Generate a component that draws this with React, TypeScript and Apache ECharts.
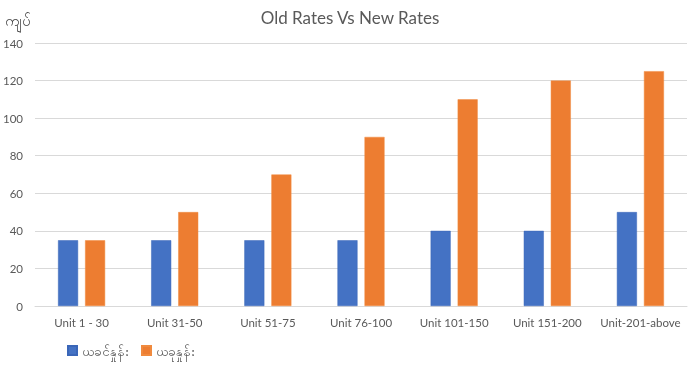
import React, { useEffect, useRef } from "react";
import * as echarts from "echarts";

const categories = ["Unit 1 - 30", "Unit 31-50", "Unit 51-75", "Unit 76-100", "Unit 101-150", "Unit 151-200", "Unit-201-above"];
const oldRates = [35, 35, 35, 35, 40, 40, 50];
const newRates = [35, 50, 70, 90, 110, 120, 125];
const seriesNames = ["ယခင်နှုန်း", "ယခုနှုန်း"];
const yAxisName = "ကျပ်";
const titleText = "Old Rates Vs New Rates";

export default function App() {
  const ref = useRef<HTMLDivElement>(null);
  useEffect(() => {
    if (!ref.current) return;
    const chart = echarts.init(ref.current, null, { renderer: "svg" });
    const font = "Lato, 'Open Sans', sans-serif";
    chart.setOption({
      animation: false,
      title: {
        text: titleText,
        left: "center",
        top: 4,
        textStyle: { fontSize: 17, fontWeight: "normal", color: "#595959", fontFamily: font },
      },
      legend: {
        left: 62,
        top: 339,
        itemWidth: 9,
        itemHeight: 9,
        itemGap: 12,
        icon: "rect",
        textStyle: { fontSize: 13, color: "#595959", fontFamily: "'Noto Sans', sans-serif" },
        data: seriesNames,
      },
      grid: { left: 34, right: 13, top: 43, bottom: 62, containLabel: false },
      xAxis: {
        type: "category",
        data: categories,
        axisTick: { show: false },
        axisLine: { lineStyle: { color: "#d9d9d9" } },
        axisLabel: { color: "#595959", fontSize: 11.5, fontFamily: font, margin: 10, interval: 0 },
      },
      yAxis: {
        type: "value",
        min: 0,
        max: 140,
        interval: 20,
        name: yAxisName,
        nameLocation: "end",
        nameGap: 16,
        nameTextStyle: { color: "#404040", fontSize: 15, align: "left", padding: [0, 0, 0, -30], fontFamily: "'Noto Sans', sans-serif" },
        axisLabel: { color: "#595959", fontSize: 11.5, fontFamily: font, margin: 12 },
        splitLine: { lineStyle: { color: "#d9d9d9" } },
        axisLine: { show: false },
      },
      series: [
        {
          name: seriesNames[0],
          type: "bar",
          data: oldRates,
          barWidth: "21.5%",
          barGap: "35%",
          itemStyle: { color: "#4472C4", borderColor: "#3a66b8", borderWidth: 0.5 },
        },
        {
          name: seriesNames[1],
          type: "bar",
          data: newRates,
          barWidth: "21.5%",
          itemStyle: { color: "#ED7D31", borderColor: "#f08a3e", borderWidth: 0.5 },
        },
      ],
    });
    return () => chart.dispose();
  }, []);
  return <div ref={ref} style={{ position: "fixed", left: 0, top: 0, width: 700, height: 368 }} />;
}
